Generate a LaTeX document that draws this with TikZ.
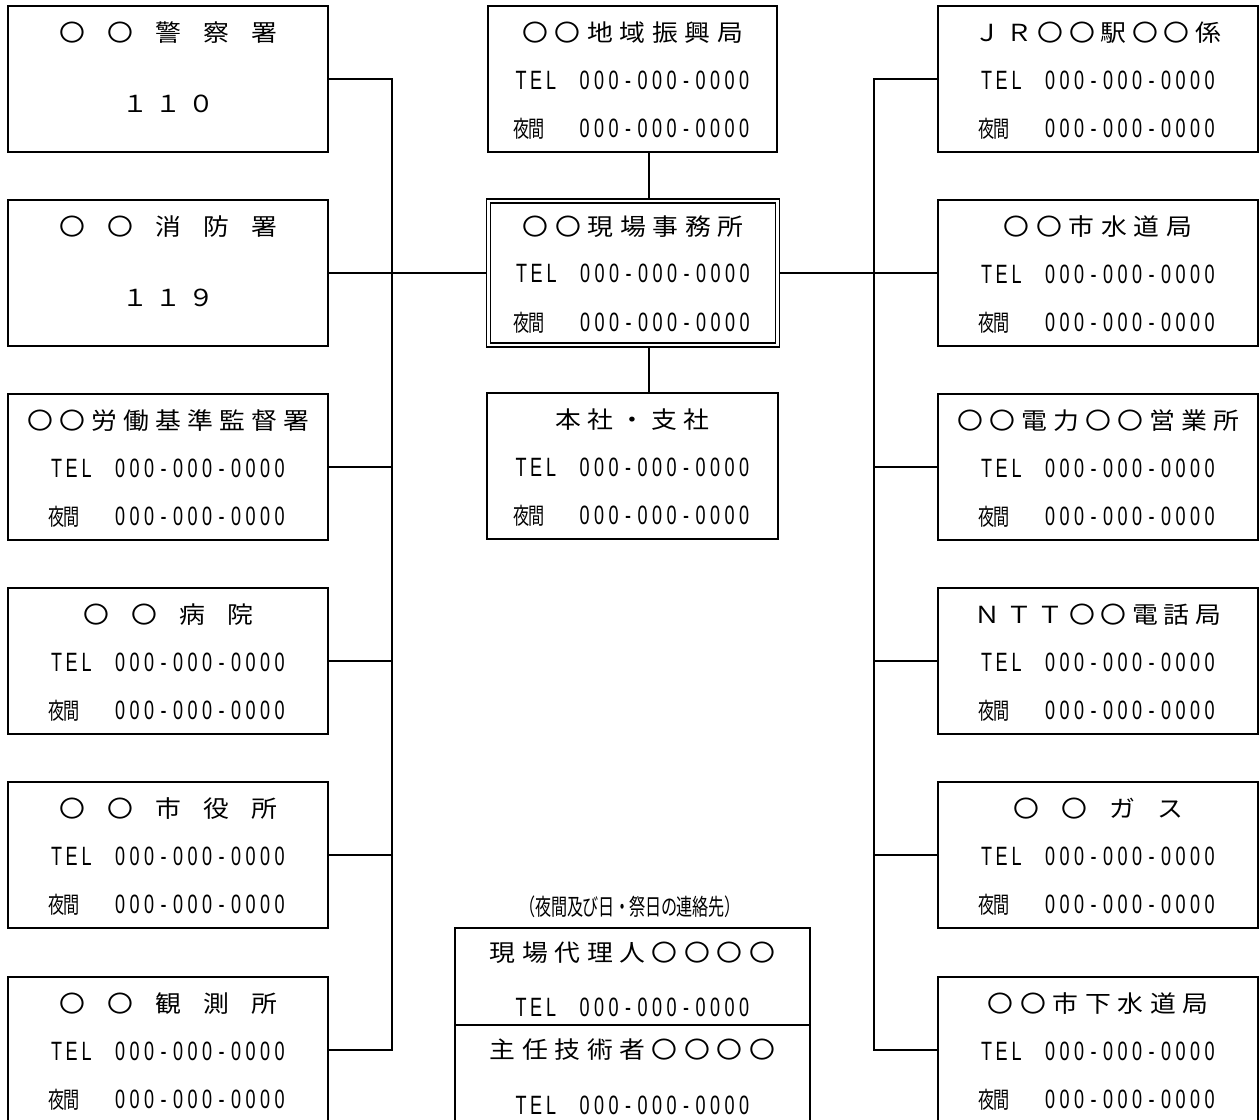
\documentclass[tikz,border=0pt]{standalone}
\usepackage{fontspec}
\newfontfamily\ttlfam[FakeStretch=1.1]{Noto Sans CJK JP}
\newfontfamily\numfam[FakeStretch=0.68]{Liberation Sans}
\newfontfamily\cndfam[FakeStretch=0.7]{Noto Sans CJK JP}
\newcommand\ttlf{\ttlfam\fontsize{23.5}{28}\selectfont}
\newcommand\numf{\numfam\fontsize{26.5}{30}\selectfont}
\newcommand\cndf{\cndfam\fontsize{23}{27}\selectfont}
\makeatletter
\newcommand\spreadtext[2]{\@tfor\spr@c:=#2\do{\makebox[#1][c]{\spr@c}}}
\makeatother
\newcommand\telrow{\makebox[63.75pt][l]{\numf\spreadtext{15pt}{TEL}}{\numf\spreadtext{14.5pt}{000-000-0000}}}
\newcommand\nightrow{\makebox[63.75pt][l]{\cndf\spreadtext{15pt}{夜間}}{\numf\spreadtext{14.5pt}{000-000-0000}}}
\tikzset{
  box/.style={draw, line width=2pt, rectangle, inner sep=0pt},
  hubbox/.style={draw, double, double distance=2.4pt, line width=1.4pt, inner sep=0pt, outer sep=2.6pt},
  txt/.style={inner sep=0pt},
  conn/.style={line width=1.8pt},
}
\newcommand\telbox[5]{%
  \node[box, minimum width=#4pt, minimum height=146pt] (#1) at (#2,#3+73) {};
  \node[txt] (#1-t) at (#2,#3+27) {\ttlf #5};
  \node[txt] (#1-tel) at (#2,#3+74) {\telrow};
  \node[txt] (#1-ngt) at (#2,#3+123) {\nightrow};
}
\begin{document}
\begin{tikzpicture}[x=1pt,y=-1pt]
\useasboundingbox (0,0) rectangle (1260,1119);
\clip (0,0) rectangle (1260,1119);
\coordinate (lbus) at (392,0);
\coordinate (rbus) at (874,0);
\coordinate (cbus) at (649,0);

% left column
\node[box, minimum width=320pt, minimum height=146pt] (L1) at (168,79) {};
\node[txt] (L1-t) at (168,33) {\ttlf\spreadtext{48pt}{〇〇警察署}};
\node[txt] (L1-n) at (168,104) {\ttlf\spreadtext{33pt}{１１０}};
\node[box, minimum width=320pt, minimum height=146pt] (L2) at (168,273) {};
\node[txt] (L2-t) at (168,227) {\ttlf\spreadtext{48pt}{〇〇消防署}};
\node[txt] (L2-n) at (168,298) {\ttlf\spreadtext{33pt}{１１９}};
\telbox{L3}{168}{394}{320}{\spreadtext{32pt}{〇〇労働基準監督署}}
\telbox{L4}{168}{588}{320}{\spreadtext{48pt}{〇〇病院}}
\telbox{L5}{168}{782}{320}{\spreadtext{48pt}{〇〇市役所}}
\telbox{L6}{168}{977}{320}{\spreadtext{48pt}{〇〇観測所}}

% center column
\telbox{C1}{632.5}{6}{289}{\spreadtext{32.5pt}{〇〇地域振興局}}
\node[hubbox, minimum width=288.8pt, minimum height=144pt] (H) at (633,273) {};
\node[txt] (H-t) at (633,227) {\ttlf\spreadtext{32.5pt}{〇〇現場事務所}};
\node[txt] (H-tel) at (633,273) {\telrow};
\node[txt] (H-ngt) at (633,323) {\nightrow};
\telbox{C3}{632.5}{393}{291}{\spreadtext{32pt}{本社・支社}}

\node[txt] (note) at (630,907) {\cndf\spreadtext{15.7pt}{（夜間及び日・祭日の連絡先）}};
\node[box, minimum width=355pt, minimum height=200pt] (B) at (632.5,1028) {};
\node[txt] (B-t1) at (632.5,953) {\ttlf\spreadtext{32.4pt}{現場代理人〇〇〇〇}};
\node[txt] (B-tel1) at (632.5,1007) {\telrow};
\coordinate (div) at (632.5,1025);
\draw[line width=2pt] (B.west |- div) -- (B.east |- div);
\node[txt] (B-t2) at (632.5,1050) {\ttlf\spreadtext{32.4pt}{主任技術者〇〇〇〇}};
\node[txt] (B-tel2) at (632.5,1105) {\telrow};

% right column
\telbox{R1}{1098}{6}{320}{\spreadtext{31.5pt}{ＪＲ〇〇駅〇〇係}}
\telbox{R2}{1098}{200}{320}{\spreadtext{32.5pt}{〇〇市水道局}}
\telbox{R3}{1098}{394}{320}{\spreadtext{32pt}{〇〇電力〇〇営業所}}
\telbox{R4}{1098}{588}{320}{\spreadtext{31.5pt}{ＮＴＴ〇〇電話局}}
\telbox{R5}{1098}{782}{320}{\spreadtext{48pt}{〇〇ガス}}
\telbox{R6}{1098}{977}{320}{\spreadtext{32.5pt}{〇〇市下水道局}}

% connectors
\draw[conn] (L1.east) -| (lbus |- L6.east) -- (L6.east);
\foreach \n in {L3,L4,L5} \draw[conn] (\n.east) -- (\n.east -| lbus);
\draw[conn] (L2.east) -- (H.west);
\draw[conn] (R1.west) -| (rbus |- R6.west) -- (R6.west);
\foreach \n in {R3,R4,R5} \draw[conn] (\n.west) -- (\n.west -| rbus);
\draw[conn] (H.east) -- (R2.west);
\draw[conn] (C1.south -| cbus) -- (H.north -| cbus);
\draw[conn] (H.south -| cbus) -- (C3.north -| cbus);
\end{tikzpicture}
\end{document}
